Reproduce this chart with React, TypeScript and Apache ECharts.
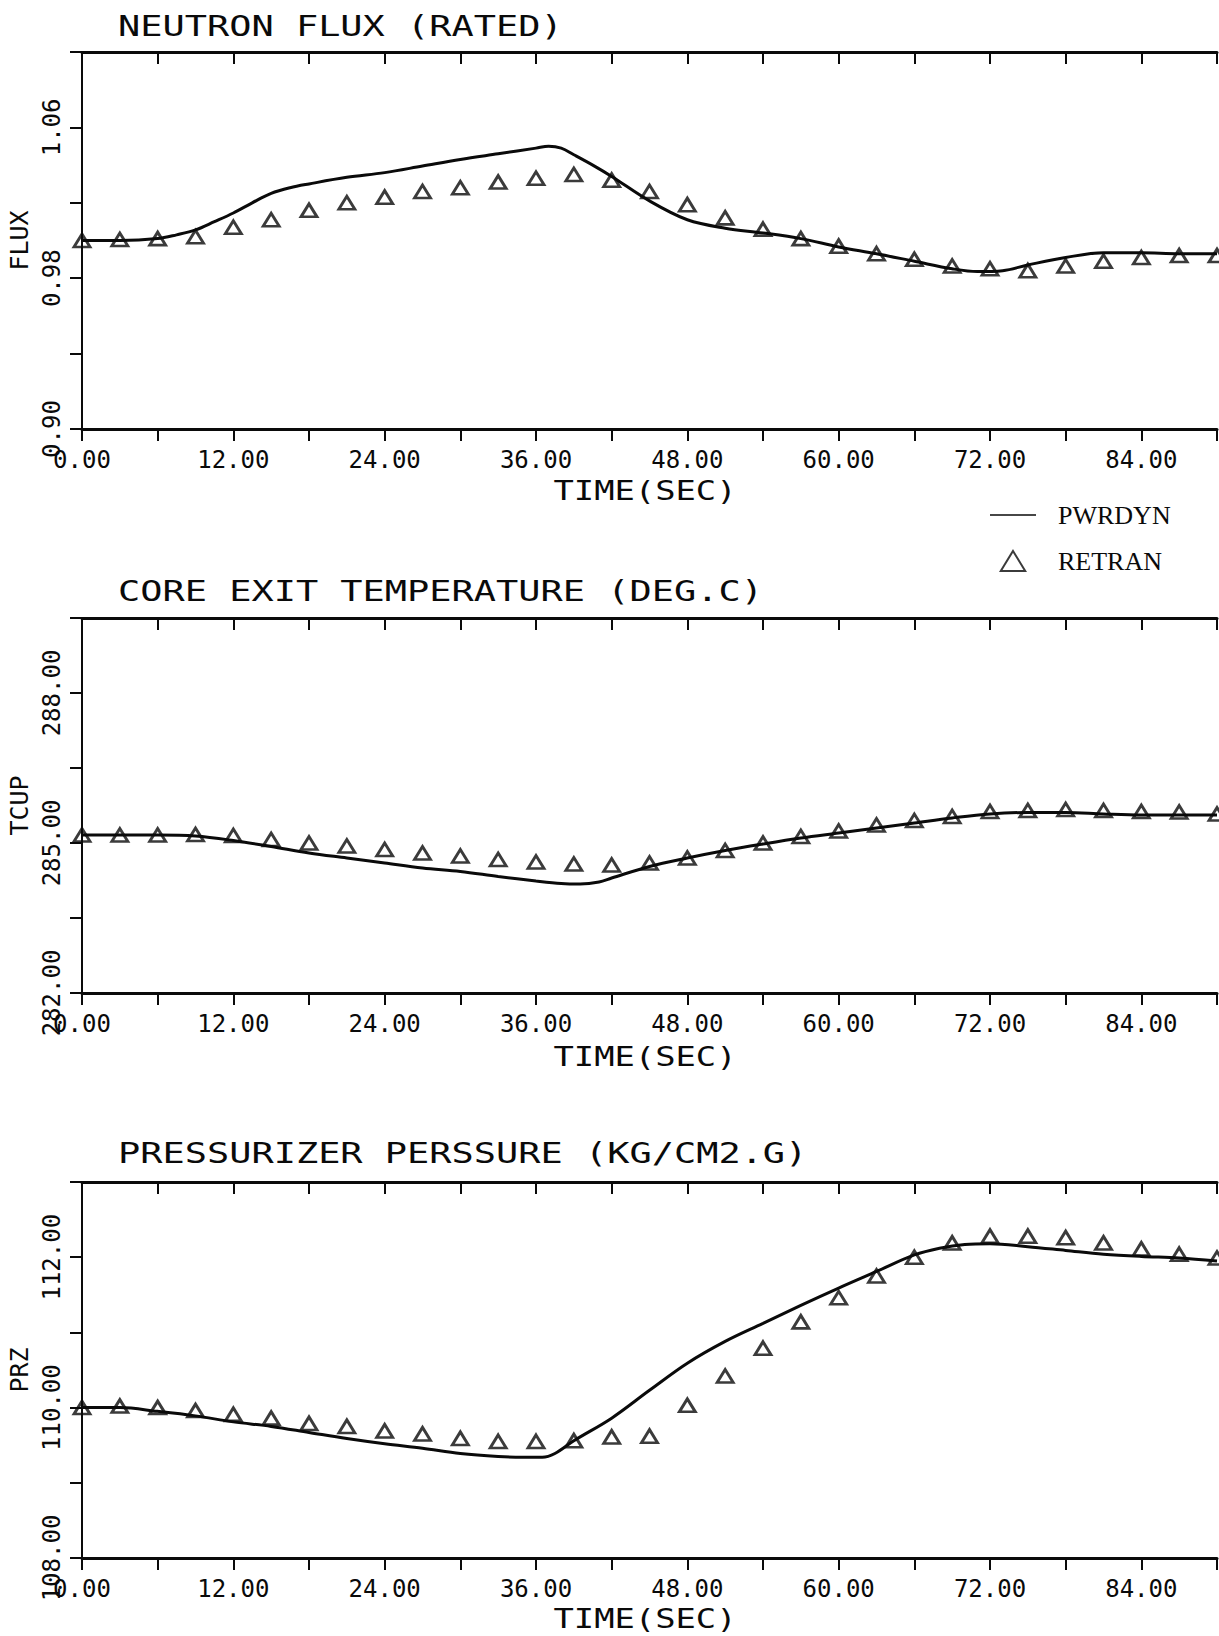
import React, { useEffect, useRef } from "react";
import * as echarts from "echarts";

// ---------- DATA ----------
const retranTime = [0, 3, 6, 9, 12, 15, 18, 21, 24, 27, 30, 33, 36, 39, 42, 45, 48, 51, 54, 57, 60, 63, 66, 69, 72, 75, 78, 81, 84, 87, 90];

// Panel 1: neutron flux (rated)
const fluxRetran = [1.000, 1.0005, 1.001, 1.002, 1.007, 1.011, 1.016, 1.020, 1.023, 1.026, 1.028, 1.031, 1.033, 1.035, 1.032, 1.026, 1.019, 1.012, 1.006, 1.001, 0.997, 0.993, 0.990, 0.9865, 0.985, 0.984, 0.9865, 0.989, 0.991, 0.992, 0.992];
const fluxPwrTime = [0, 3, 6, 7.5, 9, 10.5, 12, 13.5, 15, 16.5, 18, 21, 24, 27, 30, 33, 36, 37, 38, 39, 40.5, 42, 45, 48, 51, 54, 57, 60, 63, 66, 69, 71, 73, 75, 78, 81, 84, 87, 90];
const fluxPwr = [1.000, 1.000, 1.001, 1.003, 1.0056, 1.010, 1.0146, 1.020, 1.025, 1.028, 1.030, 1.0335, 1.036, 1.0395, 1.043, 1.046, 1.049, 1.050, 1.049, 1.0455, 1.040, 1.034, 1.021, 1.011, 1.0065, 1.004, 1.001, 0.9966, 0.993, 0.989, 0.985, 0.9835, 0.984, 0.987, 0.991, 0.9935, 0.9935, 0.993, 0.993];

// Panel 2: core exit temperature (deg C)
const tempRetran = [285.16, 285.16, 285.16, 285.17, 285.15, 285.07, 285.0, 284.94, 284.87, 284.8, 284.74, 284.67, 284.62, 284.58, 284.56, 284.6, 284.7, 284.85, 285.0, 285.13, 285.24, 285.36, 285.45, 285.53, 285.63, 285.65, 285.67, 285.65, 285.63, 285.62, 285.58];
const tempPwrTime = [0, 3, 6, 9, 12, 15, 18, 21, 24, 27, 30, 33, 36, 38, 39.5, 41, 42, 45, 48, 51, 54, 57, 60, 63, 66, 69, 72, 75, 78, 81, 84, 87, 90];
const tempPwr = [285.16, 285.16, 285.16, 285.14, 285.05, 284.93, 284.8, 284.7, 284.6, 284.5, 284.43, 284.33, 284.24, 284.19, 284.18, 284.22, 284.3, 284.53, 284.7, 284.85, 284.98, 285.1, 285.2, 285.3, 285.4, 285.5, 285.58, 285.61, 285.61, 285.58, 285.56, 285.56, 285.56];

// Panel 3: pressurizer pressure (kg/cm2.g)
const przRetran = [110.0, 110.02, 110.0, 109.96, 109.91, 109.86, 109.79, 109.75, 109.69, 109.65, 109.59, 109.55, 109.55, 109.56, 109.61, 109.62, 110.03, 110.42, 110.79, 111.14, 111.46, 111.75, 112.0, 112.19, 112.28, 112.28, 112.26, 112.19, 112.11, 112.04, 111.99];
const przPwrTime = [0, 3, 6, 9, 12, 15, 18, 21, 24, 27, 30, 33, 35, 36.5, 37.5, 39, 42, 45, 48, 51, 54, 57, 60, 63, 66, 68, 70, 72, 75, 78, 81, 84, 87, 90];
const przPwr = [110.0, 110.0, 109.95, 109.89, 109.81, 109.75, 109.67, 109.59, 109.52, 109.46, 109.39, 109.35, 109.34, 109.34, 109.39, 109.56, 109.86, 110.23, 110.59, 110.88, 111.12, 111.36, 111.59, 111.81, 112.03, 112.12, 112.17, 112.18, 112.14, 112.09, 112.04, 112.01, 111.99, 111.95];

const titles = ["NEUTRON FLUX (RATED)", "CORE EXIT TEMPERATURE (DEG.C)", "PRESSURIZER PERSSURE (KG/CM2.G)"];
const yNames = ["FLUX", "TCUP", "PRZ"];
const xName = "TIME(SEC)";
const seriesNames = ["PWRDYN", "RETRAN"];

// ---------- LAYOUT ----------
const panels = [
  { top: 52, height: 377, yMin: 0.9, yMax: 1.1, yInt: 0.04, titleY: 27, nameY: 491, pwrT: fluxPwrTime, pwrV: fluxPwr, retV: fluxRetran },
  { top: 618, height: 375, yMin: 282, yMax: 289.5, yInt: 1.5, titleY: 592, nameY: 1057, pwrT: tempPwrTime, pwrV: tempPwr, retV: tempRetran },
  { top: 1182, height: 376, yMin: 108, yMax: 113, yInt: 1, titleY: 1154, nameY: 1619, pwrT: przPwrTime, pwrV: przPwr, retV: przRetran },
];

const INK = "#0a0a0a";
const MONO = '"DejaVu Sans Mono"';

export default function App() {
  const ref = useRef<HTMLDivElement>(null);

  useEffect(() => {
    if (!ref.current) return;
    const chart = echarts.init(ref.current, null, { renderer: "svg" });

    const grid = panels.map((p) => ({
      left: 82,
      right: 2,
      top: p.top,
      height: p.height,
      containLabel: false,
      outerBoundsMode: "none",
    }));

    const xAxis: any[] = [];
    const yAxis: any[] = [];
    panels.forEach((p, i) => {
      xAxis.push({
        type: "value",
        gridIndex: i,
        position: "bottom",
        min: 0,
        max: 90,
        interval: 6,
        axisLine: { show: true, lineStyle: { color: INK, width: 3 } },
        axisTick: { show: true, inside: false, length: 12, lineStyle: { color: INK, width: 2 } },
        axisLabel: {
          show: true,
          margin: 19,
          color: INK,
          fontFamily: MONO,
          fontSize: 24,
          formatter: (v: number) => (Math.round(v) % 12 === 0 ? v.toFixed(2) : ""),
        },
        splitLine: { show: false },
      });
      xAxis.push({
        type: "value",
        gridIndex: i,
        position: "top",
        min: 0,
        max: 90,
        interval: 6,
        axisLine: { show: true, lineStyle: { color: INK, width: 3 } },
        axisTick: { show: true, inside: true, length: 12, lineStyle: { color: INK, width: 2 } },
        axisLabel: { show: false },
        splitLine: { show: false },
      });
      yAxis.push({
        type: "value",
        gridIndex: i,
        position: "left",
        min: p.yMin,
        max: p.yMax,
        interval: p.yInt,
        name: yNames[i],
        nameLocation: "middle",
        nameGap: 47,
        nameTextStyle: { color: INK, fontFamily: MONO, fontSize: 25 },
        axisLine: { show: true, lineStyle: { color: INK, width: 2 } },
        axisTick: { show: true, inside: false, length: 12, lineStyle: { color: INK, width: 2 } },
        axisLabel: {
          show: true,
          rotate: 90,
          margin: 18,
          color: INK,
          fontFamily: MONO,
          fontSize: 24,
          formatter: (v: number) => {
            const k = Math.round((v - p.yMin) / p.yInt);
            return k % 2 === 0 ? v.toFixed(2) : "";
          },
        },
        splitLine: { show: false },
      });
      yAxis.push({
        type: "value",
        gridIndex: i,
        position: "right",
        min: p.yMin,
        max: p.yMax,
        interval: p.yInt,
        axisLine: { show: true, lineStyle: { color: INK, width: 2 } },
        axisTick: { show: true, inside: true, length: 11, lineStyle: { color: INK, width: 2 } },
        axisLabel: { show: false },
        splitLine: { show: false },
      });
    });

    const series: any[] = [];
    panels.forEach((p, i) => {
      series.push({
        type: "line",
        name: seriesNames[0],
        xAxisIndex: i * 2,
        yAxisIndex: i * 2,
        data: p.pwrT.map((t, j) => [t, p.pwrV[j]]),
        smooth: 0.35,
        showSymbol: false,
        symbol: "none",
        lineStyle: { color: INK, width: 3 },
        itemStyle: { color: INK },
        z: 2,
      });
      series.push({
        type: "scatter",
        name: seriesNames[1],
        xAxisIndex: i * 2,
        yAxisIndex: i * 2,
        data: retranTime.map((t, j) => [t, p.retV[j]]),
        symbol: "triangle",
        symbolSize: [16, 13],
        itemStyle: { color: "rgba(255,255,255,0)", borderColor: INK, borderWidth: 2.8 },
        z: 3,
      });
    });

    const graphic: any[] = [];
    panels.forEach((p, i) => {
      graphic.push({
        type: "text",
        x: 118,
        y: p.titleY,
        scaleX: 1.32,
        style: {
          text: titles[i],
          font: `28px ${MONO}`,
          fill: INK,
          align: "left",
          verticalAlign: "middle",
          textAlign: "left",
          textVerticalAlign: "middle",
        },
      });
      graphic.push({
        type: "text",
        x: 645,
        y: p.nameY,
        scaleX: 1.3,
        style: {
          text: xName,
          font: `26px ${MONO}`,
          fill: INK,
          align: "center",
          verticalAlign: "middle",
          textAlign: "center",
          textVerticalAlign: "middle",
        },
      });
    });

    const option: any = {
      animation: false,
      backgroundColor: "#fff",
      grid,
      xAxis,
      yAxis,
      series,
      graphic,
      legend: {
        orient: "vertical",
        left: 990,
        top: 502,
        padding: 0,
        itemWidth: 46,
        itemHeight: 20,
        itemGap: 20,
        data: [
          {
            name: seriesNames[0],
            icon: "path://M0,9 L46,9 L46,10.6 L0,10.6 Z",
            itemStyle: { color: INK, borderWidth: 0 },
          },
          {
            name: seriesNames[1],
            icon: "path://M23,1 L34,19 L12,19 Z",
            itemStyle: { color: "rgba(255,255,255,0)", borderColor: INK, borderWidth: 2 },
          },
        ],
        textStyle: {
          color: INK,
          fontFamily: '"Liberation Serif"',
          fontSize: 26,
          padding: [0, 0, 0, 17],
        },
      },
    };

    chart.setOption(option);
    return () => chart.dispose();
  }, []);

  return (
    <div
      ref={ref}
      style={{ position: "absolute", left: 0, top: 0, width: 1219, height: 1636, background: "#fff" }}
    />
  );
}
